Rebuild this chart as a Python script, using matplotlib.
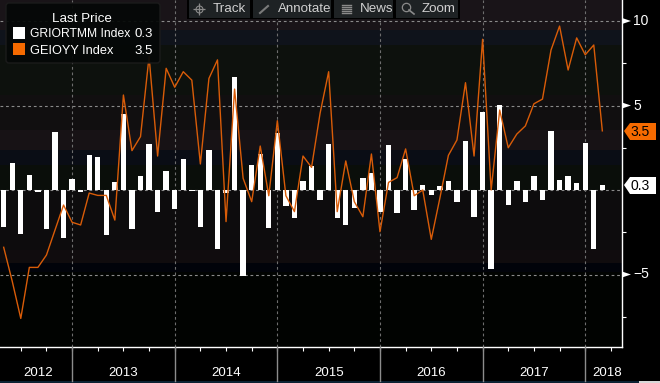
"""Bloomberg style chart: GRIORTMM bars with GEIOYY line."""
import matplotlib
matplotlib.use("Agg")
import matplotlib.pyplot as plt
from matplotlib.patches import FancyBboxPatch, Polygon, Rectangle

plt.rcParams["font.family"] = ["Liberation Sans", "DejaVu Sans"]

YEARS = ["2012", "2013", "2014", "2015", "2016", "2017", "2018"]
YEAR_BREAKS = [8, 20, 32, 44, 56, 68]
YEAR_LABEL_POS = [4, 14, 26, 38, 50, 62, 70.6]
Y_MAJOR = [10, 5, -5]
Y_MINOR = [7.5, 2.5, -2.5, -7.5]

griortmm = [
    -2.17, 1.6, -2.6, 0.89, -0.12, -2.3, 3.43, -2.84, 0.65, -0.12,
    2.07, 1.95, -2.66, 0.47, 4.5, -2.3, 0.83, 2.72, -1.3, 1.12,
    -1.12, 1.83, -0.05, -2.19, 2.37, -3.49, -0.18, 6.69, -5.09, 1.48,
    2.13, -2.25, 3.37, -0.95, -1.66, 0.53, 1.42, -0.59, 2.72, -1.66,
    -2.07, -1.07, 0.71, 1.0, -1.3, 2.66, -1.36, 1.83, -1.18, 0.3,
    -0.3, 0.24, 0.53, -0.71, 2.9, -1.6, 4.6, -4.67, 5.03, -0.89,
    0.53, -0.71, 0.83, -0.59, 3.49, 0.59, 0.83, 0.41, 2.8, -3.49, 0.3,
]
geioyy = [
    -3.39, -5.4, -7.6, -4.58, -4.58, -3.85, -2.37, -0.89, -1.91, -2.07,
    -0.18, -0.32, -0.32, -1.78, 5.62, 2.33, 3.16, 7.9, 2.01, 7.2,
    6.08, 7.0, 6.5, 1.54, 6.6, 7.7, -1.87, 5.97, 0.69, -0.69,
    2.6, -0.34, 4.1, -0.34, -1.28, 2.01, 1.34, 4.55, 7.0, -1.28,
    1.72, -0.69, -1.58, 2.13, -2.47, 0.45, 0.73, 2.43, -0.34, 0.0,
    -2.92, -0.49, 2.05, 2.96, 6.35, 2.01, 8.92, 0.0, 4.73, 2.5,
    3.31, 3.79, 5.1, 5.38, 8.28, 9.7, 7.1, 9.0, 8.0, 8.58, 3.5,
]
BAND_EDGES = [11.3, 9.47, 8.58, 5.62, 3.55, 2.37, 1.48, 0, -3.55, -4.32, -4.85, -9.5]
BAND_COLORS = ["#191418", "#0f131b", "#0d110d", "#110f10", "#171215", "#0a0d15", "#0a0e0a",
               "#0d0c0d", "#100c0e", "#01030a", "#010301"]

ORANGE = "#d95c08"
W, H = 660, 383

fig = plt.figure(figsize=(W / 100, H / 100), dpi=100, facecolor="black")
ax = fig.add_axes([0, (H - 347) / H, 622 / W, 347 / H])
ax.set_xlim(-0.43, 72.3)
ax.set_ylim((190 - 347) / 16.9, 190 / 16.9)
ax.set_facecolor("black")

for top, bottom, c in zip(BAND_EDGES[:-1], BAND_EDGES[1:], BAND_COLORS):
    ax.axhspan(bottom, top, color=c, lw=0, zorder=0)

for y in Y_MAJOR + [0]:
    ax.axhline(y, color="#8a8a8a", lw=0.8, ls=(0, (2.5, 2.5)), zorder=1)
for x in YEAR_BREAKS:
    ax.axvline(x, color="#6e6e6e", lw=0.8, ls=(0, (2.5, 2.5)), zorder=1)

ax.bar(range(len(griortmm)), griortmm, width=0.63, color="white", lw=0, zorder=2)
ax.plot(range(len(geioyy)), geioyy, color=ORANGE, lw=1.0, zorder=3)

for s in ["top", "left"]:
    ax.spines[s].set_visible(False)
for s in ["bottom", "right"]:
    ax.spines[s].set_color("white")
    ax.spines[s].set_linewidth(1.0)

ax.yaxis.tick_right()
ax.set_yticks(Y_MINOR)
ax.set_yticklabels([])
ax.tick_params(axis="y", colors="white", length=3, width=0.8)
ax.set_xticks(range(2, 72, 3))
ax.set_xticklabels([])
ax.tick_params(axis="x", colors="white", length=3, width=0.8)

# overlay in pixel coordinates for everything outside the data area
ov = fig.add_axes([0, 0, 1, 1], facecolor="none")
ov.set_xlim(0, W)
ov.set_ylim(H, 0)
ov.axis("off")

to_px = lambda i: (i + 0.43) / 72.73 * 622
for x in YEAR_BREAKS:
    ov.plot([to_px(x)] * 2, [347, 381], color="#8c8c8c", lw=1)
for label, x in zip(YEARS, YEAR_LABEL_POS):
    ov.text(to_px(x), 373.5, label, color="white", fontsize=9.5, ha="center", va="center")
ov.add_patch(Rectangle((0, 381), W, 2, color="#0c2233", lw=0))
ov.add_patch(Rectangle((639, 381), 21, 2, color="#d8d8d8", lw=0))

# right axis labels and arrows
for v in Y_MAJOR:
    y = 190 - v * 16.9
    ov.add_patch(Polygon([(622, y - 3), (622, y + 3), (631, y)], color="white", lw=0))
    ov.text(633, y, f"\u2212{-v}" if v < 0 else str(v), color="white", fontsize=10, va="center")

# last value tags
ov.add_patch(Polygon([(624, 131), (630, 123), (656, 123), (656, 140), (630, 140)], color="#f56a00", lw=0))
ov.text(640.5, 132, "3.5", color="black", fontsize=10, ha="center", va="center")
ov.add_patch(Polygon([(624, 185), (630, 177), (656, 177), (656, 194), (630, 194)], color="white", lw=0))
ov.text(640.5, 186, "0.3", color="black", fontsize=10, ha="center", va="center")

# legend box
ov.add_patch(FancyBboxPatch((6, 3), 154, 60, boxstyle="round,pad=0,rounding_size=3",
                            fc="#050807", ec="#1c1c1c", lw=1, alpha=0.94))
ov.text(82, 18.5, "Last Price", color="white", fontsize=9.6, ha="center", va="center")
ov.add_patch(Rectangle((13, 27), 12, 12, color="white", lw=0))
ov.add_patch(Rectangle((13, 43), 12, 12, color="#f56a00", lw=0))
ov.text(29.5, 34, "GRIORTMM Index", color="white", fontsize=8.7, va="center")
ov.text(29.5, 50.5, "GEIOYY Index", color="white", fontsize=9.2, va="center")
ov.text(153, 34, "0.3", color="white", fontsize=9.5, ha="right", va="center")
ov.text(153, 50.5, "3.5", color="white", fontsize=9.5, ha="right", va="center")

# toolbar
ov.add_patch(Rectangle((187, -1), 273, 20, fc="#000000", ec="none"))
for x0, x1, label, tx in [(189, 250, "Track", 213), (253, 331, "Annotate", 278),
                          (334, 393, "News", 360), (396, 458, "Zoom", 422)]:
    ov.add_patch(Rectangle((x0, 0), x1 - x0, 17.5, fc="#1e2224", ec="none"))
    ov.text(tx, 9, label, color="#d0d0d0", fontsize=9.6, va="center")
ov.plot([199], [8.5], marker="+", ms=8, color="#8a8a8a", mew=0.9)
ov.plot([199], [8.5], marker="o", ms=5, mfc="none", color="#8a8a8a", mew=0.8)
ov.plot([260, 268], [13, 6], color="#7a7a7a", lw=1.5)
for y in [5, 7, 9, 11, 13]:
    ov.plot([342, 351], [y, y], color="#8a8a8a", lw=1)
ov.plot([406], [7], marker="o", ms=6, mfc="none", color="#8a8a8a", mew=0.9)
ov.plot([409, 414], [10, 14], color="#8a8a8a", lw=1.2)

fig.savefig("out.png", dpi=100, facecolor="black")
